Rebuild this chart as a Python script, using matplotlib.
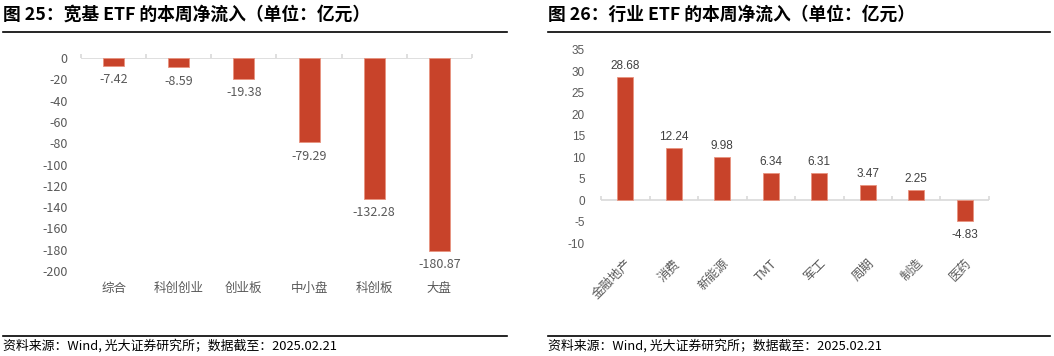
import numpy as np
import matplotlib
matplotlib.use("Agg")
import matplotlib.pyplot as plt
import matplotlib.transforms as mtransforms

plt.rcParams['font.family'] = ['Noto Sans CJK SC', 'DejaVu Sans']

# 宽基 ETF
broad_cats = ["综合", "科创创业", "创业板", "中小盘", "科创板", "大盘"]
broad_vals = [-7.42, -8.59, -19.38, -79.29, -132.28, -180.87]
broad_ticks = [0, -20, -40, -60, -80, -100, -120, -140, -160, -180, -200]

# 行业 ETF
ind_cats = ["金融地产", "消费", "新能源", "TMT", "军工", "周期", "制造", "医药"]
ind_vals = [28.68, 12.24, 9.98, 6.34, 6.31, 3.47, 2.25, -4.83]
ind_ticks = [35, 30, 25, 20, 15, 10, 5, 0, -5, -10]

titles = ["图 25：宽基 ETF 的本周净流入（单位：亿元）",
          "图 26：行业 ETF 的本周净流入（单位：亿元）"]
source = "资料来源：Wind, 光大证券研究所；数据截至：2025.02.21"

BAR = '#C8432A'
GRAY = '#595959'
LINE = '#D9D9D9'

W, H = 1054, 356
fig = plt.figure(figsize=(W / 100, H / 100), dpi=100)


def px(x0, y0, x1, y1):
    return [x0 / W, 1 - y1 / H, (x1 - x0) / W, (y1 - y0) / H]


def zero_line(ax, n):
    ax.axhline(0, color=LINE, lw=1.2, zorder=1)
    tr = mtransforms.blended_transform_factory(ax.transData, ax.transAxes)
    bounds = np.arange(n + 1) - 0.5
    y0 = ax.transAxes.inverted().transform(ax.transData.transform((0, 0)))[1]
    ax.vlines(bounds, y0, y0 + 4 / (ax.bbox.height), color=LINE, lw=1.2,
              transform=tr, clip_on=False)


# ---------- 左图 ----------
ax1 = fig.add_axes(px(81, 58, 472, 271))
x1 = np.arange(len(broad_cats))
ax1.bar(x1, broad_vals, width=0.32, color=BAR, edgecolor='#E8937F', lw=0.6, zorder=2)
ax1.set_xlim(-0.5, len(broad_cats) - 0.5)
ax1.set_ylim(-200, 0)
ax1.set_yticks(broad_ticks)
ax1.set_yticklabels([str(t) for t in broad_ticks], color=GRAY, fontsize=9)
ax1.set_xticks(x1)
ax1.set_xticklabels(broad_cats, color=GRAY, fontsize=9)
ax1.tick_params(length=0, pad=9.5)
ax1.tick_params(axis='x', pad=8)
for s in ax1.spines.values():
    s.set_visible(False)
zero_line(ax1, len(broad_cats))
for xi, v in zip(x1, broad_vals):
    ax1.annotate(f"{v:.2f}", (xi, v), xytext=(0, -14), textcoords='offset pixels',
                 ha='center', va='center', fontsize=9, color=GRAY)

# ---------- 右图 ----------
ax2 = fig.add_axes(px(601, 50, 989, 243))
x2 = np.arange(len(ind_cats))
ax2.bar(x2, ind_vals, width=0.34, color=BAR, edgecolor='#E8937F', lw=0.6, zorder=2)
ax2.set_xlim(-0.5, len(ind_cats) - 0.5)
ax2.set_ylim(-10, 35)
ax2.set_yticks(ind_ticks)
ax2.set_yticklabels([str(t) for t in ind_ticks], color=GRAY, fontsize=8.5,
                    family=['Liberation Sans', 'DejaVu Sans'])
ax2.set_xticks(x2)
ax2.set_xticklabels(ind_cats, color=GRAY, fontsize=9, rotation=45,
                    ha='right', va='top', rotation_mode='anchor')
ax2.tick_params(axis='y', length=0, pad=11.5)
ax2.tick_params(axis='x', length=0, pad=10)
for s in ax2.spines.values():
    s.set_visible(False)
zero_line(ax2, len(ind_cats))
for xi, v in zip(x2, ind_vals):
    off = 11 if v >= 0 else -14
    ax2.annotate(f"{v:.2f}", (xi, v), xytext=(0, off), textcoords='offset pixels',
                 ha='center', va='center', fontsize=8.5, color='#404040',
                 family=['Liberation Sans', 'DejaVu Sans'])

# ---------- 标题与来源 ----------
for x0, x1p, t in [(3, 507, titles[0]), (548, 1050, titles[1])]:
    fig.text(x0 / W, 1 - 15 / H, t, fontsize=12.8, fontweight='bold',
             ha='left', va='center', color='black')
    fig.add_artist(plt.Line2D([x0 / W, x1p / W], [1 - 32 / H] * 2,
                              color='black', lw=1.2))
    fig.add_artist(plt.Line2D([x0 / W, x1p / W], [1 - 336 / H] * 2,
                              color='black', lw=1.2))
    fig.text(x0 / W, 1 - 346 / H, source, fontsize=9.3, ha='left', va='center',
             color='black')

fig.savefig("out.png", dpi=100, facecolor='white')
